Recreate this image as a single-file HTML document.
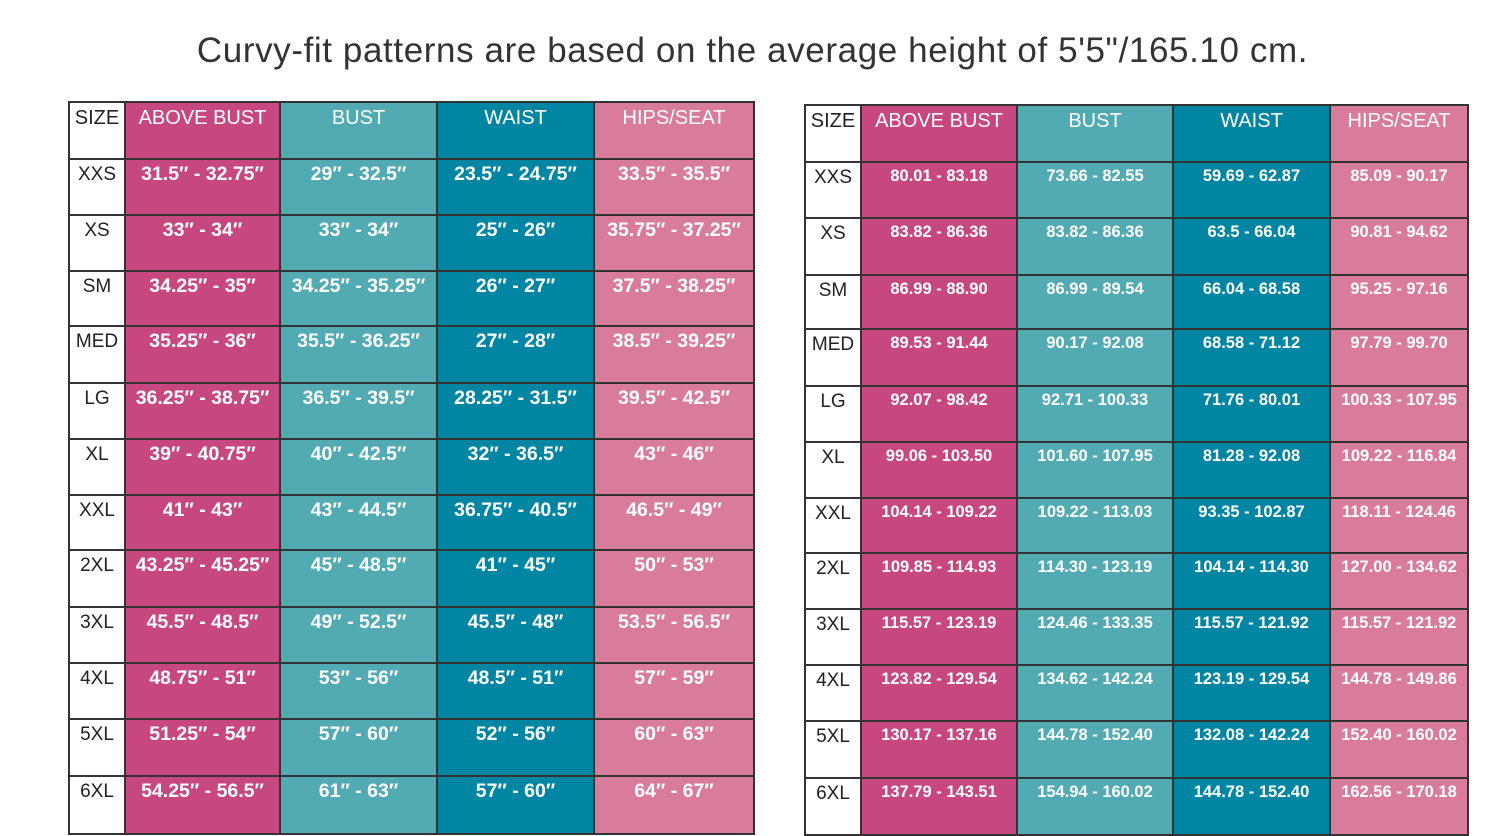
<!DOCTYPE html>
<html><head><meta charset="utf-8"><style>
body{margin:0;width:1505px;height:835px;background:#fff;position:relative;overflow:hidden;font-family:"Liberation Sans",sans-serif}
h1{position:absolute;top:31px;left:0;width:1505px;text-align:center;margin:0;font-weight:normal;font-size:35px;color:#333;letter-spacing:0.6px}
table{position:absolute;border-collapse:collapse;table-layout:fixed}
td{border:2px solid #333;vertical-align:top;text-align:center;color:#fff;font-weight:bold;padding:4px 0 0 0;white-space:nowrap;overflow:hidden}
td.s{background:#fff;color:#222;font-weight:normal;font-size:19px}
tr.h td{font-weight:normal;font-size:20px}
.a{background:#c7477f}.b{background:#52abb3}.w{background:#0086a3}.p{background:#d97c9c}
#L{left:68px;top:101px}#L td{font-size:19.5px;padding-top:3px}#L tr.h td{font-size:20px;padding-top:4px}#L td.s{font-size:19px;padding-top:4px}
#R{left:804px;top:104px}#R td{font-size:16.5px;padding-top:4px}#R tr.h td{font-size:20px;padding-top:4px}#R td.s{font-size:19px}
</style></head><body>
<h1>Curvy-fit patterns are based on the average height of 5'5"/165.10 cm.</h1>
<table id="L">
<colgroup><col style="width:56px"><col style="width:155px"><col style="width:157px"><col style="width:157px"><col style="width:160px"></colgroup>
<tr class="h" style="height:57px"><td class="s">SIZE</td><td class="a">ABOVE BUST</td><td class="b">BUST</td><td class="w">WAIST</td><td class="p">HIPS/SEAT</td></tr>
<tr style="height:56px"><td class="s">XXS</td><td class="a">31.5″ - 32.75″</td><td class="b">29″ - 32.5″</td><td class="w">23.5″ - 24.75″</td><td class="p">33.5″ - 35.5″</td></tr>
<tr style="height:56px"><td class="s">XS</td><td class="a">33″ - 34″</td><td class="b">33″ - 34″</td><td class="w">25″ - 26″</td><td class="p">35.75″ - 37.25″</td></tr>
<tr style="height:55px"><td class="s">SM</td><td class="a">34.25″ - 35″</td><td class="b">34.25″ - 35.25″</td><td class="w">26″ - 27″</td><td class="p">37.5″ - 38.25″</td></tr>
<tr style="height:57px"><td class="s">MED</td><td class="a">35.25″ - 36″</td><td class="b">35.5″ - 36.25″</td><td class="w">27″ - 28″</td><td class="p">38.5″ - 39.25″</td></tr>
<tr style="height:56px"><td class="s">LG</td><td class="a">36.25″ - 38.75″</td><td class="b">36.5″ - 39.5″</td><td class="w">28.25″ - 31.5″</td><td class="p">39.5″ - 42.5″</td></tr>
<tr style="height:56px"><td class="s">XL</td><td class="a">39″ - 40.75″</td><td class="b">40″ - 42.5″</td><td class="w">32″ - 36.5″</td><td class="p">43″ - 46″</td></tr>
<tr style="height:55px"><td class="s">XXL</td><td class="a">41″ - 43″</td><td class="b">43″ - 44.5″</td><td class="w">36.75″ - 40.5″</td><td class="p">46.5″ - 49″</td></tr>
<tr style="height:57px"><td class="s">2XL</td><td class="a">43.25″ - 45.25″</td><td class="b">45″ - 48.5″</td><td class="w">41″ - 45″</td><td class="p">50″ - 53″</td></tr>
<tr style="height:56px"><td class="s">3XL</td><td class="a">45.5″ - 48.5″</td><td class="b">49″ - 52.5″</td><td class="w">45.5″ - 48″</td><td class="p">53.5″ - 56.5″</td></tr>
<tr style="height:56px"><td class="s">4XL</td><td class="a">48.75″ - 51″</td><td class="b">53″ - 56″</td><td class="w">48.5″ - 51″</td><td class="p">57″ - 59″</td></tr>
<tr style="height:57px"><td class="s">5XL</td><td class="a">51.25″ - 54″</td><td class="b">57″ - 60″</td><td class="w">52″ - 56″</td><td class="p">60″ - 63″</td></tr>
<tr style="height:58px"><td class="s">6XL</td><td class="a">54.25″ - 56.5″</td><td class="b">61″ - 63″</td><td class="w">57″ - 60″</td><td class="p">64″ - 67″</td></tr>
</table>
<table id="R">
<colgroup><col style="width:56px"><col style="width:156px"><col style="width:156px"><col style="width:157px"><col style="width:138px"></colgroup>
<tr class="h" style="height:57px"><td class="s">SIZE</td><td class="a">ABOVE BUST</td><td class="b">BUST</td><td class="w">WAIST</td><td class="p">HIPS/SEAT</td></tr>
<tr style="height:56px"><td class="s">XXS</td><td class="a">80.01 - 83.18</td><td class="b">73.66 - 82.55</td><td class="w">59.69 - 62.87</td><td class="p">85.09 - 90.17</td></tr>
<tr style="height:57px"><td class="s">XS</td><td class="a">83.82 - 86.36</td><td class="b">83.82 - 86.36</td><td class="w">63.5 - 66.04</td><td class="p">90.81 - 94.62</td></tr>
<tr style="height:54px"><td class="s">SM</td><td class="a">86.99 - 88.90</td><td class="b">86.99 - 89.54</td><td class="w">66.04 - 68.58</td><td class="p">95.25 - 97.16</td></tr>
<tr style="height:57px"><td class="s">MED</td><td class="a">89.53 - 91.44</td><td class="b">90.17 - 92.08</td><td class="w">68.58 - 71.12</td><td class="p">97.79 - 99.70</td></tr>
<tr style="height:56px"><td class="s">LG</td><td class="a">92.07 - 98.42</td><td class="b">92.71 - 100.33</td><td class="w">71.76 - 80.01</td><td class="p">100.33 - 107.95</td></tr>
<tr style="height:56px"><td class="s">XL</td><td class="a">99.06 - 103.50</td><td class="b">101.60 - 107.95</td><td class="w">81.28 - 92.08</td><td class="p">109.22 - 116.84</td></tr>
<tr style="height:55px"><td class="s">XXL</td><td class="a">104.14 - 109.22</td><td class="b">109.22 - 113.03</td><td class="w">93.35 - 102.87</td><td class="p">118.11 - 124.46</td></tr>
<tr style="height:56px"><td class="s">2XL</td><td class="a">109.85 - 114.93</td><td class="b">114.30 - 123.19</td><td class="w">104.14 - 114.30</td><td class="p">127.00 - 134.62</td></tr>
<tr style="height:56px"><td class="s">3XL</td><td class="a">115.57 - 123.19</td><td class="b">124.46 - 133.35</td><td class="w">115.57 - 121.92</td><td class="p">115.57 - 121.92</td></tr>
<tr style="height:56px"><td class="s">4XL</td><td class="a">123.82 - 129.54</td><td class="b">134.62 - 142.24</td><td class="w">123.19 - 129.54</td><td class="p">144.78 - 149.86</td></tr>
<tr style="height:57px"><td class="s">5XL</td><td class="a">130.17 - 137.16</td><td class="b">144.78 - 152.40</td><td class="w">132.08 - 142.24</td><td class="p">152.40 - 160.02</td></tr>
<tr style="height:57px"><td class="s">6XL</td><td class="a">137.79 - 143.51</td><td class="b">154.94 - 160.02</td><td class="w">144.78 - 152.40</td><td class="p">162.56 - 170.18</td></tr>
</table>
</body></html>
